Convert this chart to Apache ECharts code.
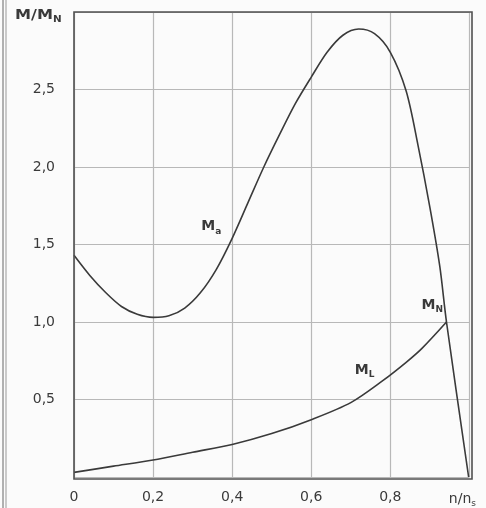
<!DOCTYPE html>
<html>
<head>
<meta charset="utf-8">
<script src="https://cdn.jsdelivr.net/npm/echarts@6/dist/echarts.min.js"></script>
<style>
  html, body { margin: 0; padding: 0; background: #fbfbfb; }
  #chart { width: 486px; height: 508px; }
</style>
</head>
<body>
<div id="chart"></div>
<script>
// speed ratio n/n_s and torque ratio M/M_N
const motorSpeed = [0, 0.04, 0.08, 0.12, 0.16, 0.2, 0.24, 0.28, 0.32, 0.36, 0.4, 0.44, 0.48, 0.52, 0.56, 0.6, 0.64, 0.68, 0.72, 0.76, 0.8, 0.84, 0.87, 0.9, 0.925, 0.942, 0.998];
const motorTorque = [1.43, 1.3, 1.19, 1.1, 1.05, 1.03, 1.04, 1.09, 1.19, 1.34, 1.54, 1.77, 2.0, 2.21, 2.41, 2.58, 2.74, 2.85, 2.89, 2.86, 2.74, 2.49, 2.14, 1.74, 1.36, 1.0, 0];
const loadSpeed = [0, 0.1, 0.2, 0.3, 0.4, 0.5, 0.6, 0.7, 0.78, 0.84, 0.88, 0.942];
const loadTorque = [0.03, 0.07, 0.11, 0.16, 0.21, 0.28, 0.37, 0.48, 0.62, 0.74, 0.83, 1.0];
const xTicks = ['0', '0,2', '0,4', '0,6', '0,8', '{t|n/n}{sub|s}{gap|}'];
const yTicks = ['', '0,5', '1,0', '1,5', '2,0', '2,5', ''];

const ink = '#3a3a3a';
const font = 'DejaVu Sans';
const sub = { fontSize: 9, fontFamily: font, color: ink, verticalAlign: 'bottom', padding: [9, 0, 0, 0] };

const chart = echarts.init(document.getElementById('chart'));
const zip = (xs, ys) => xs.map((x, i) => [x, ys[i]]);

const tag = (coord, text) => ({
  coord: coord,
  symbol: 'circle',
  symbolSize: 0,
  label: {
    show: true,
    formatter: text,
    color: ink,
    fontFamily: font,
    fontSize: 14,
    fontWeight: 'bold',
    rich: { sub: Object.assign({}, sub, { fontWeight: 'bold' }) },
  },
});

chart.setOption({
  animation: false,
  backgroundColor: '#fbfbfb',
  grid: { left: 74, right: 14, top: 12, bottom: 29 },
  xAxis: {
    type: 'value',
    min: 0,
    max: 1,
    interval: 0.2,
    axisLine: { show: false },
    axisTick: { show: false },
    splitLine: { show: true, lineStyle: { color: '#b8b8b8', width: 1.2 } },
    axisLabel: {
      margin: 13,
      color: ink,
      fontFamily: font,
      fontSize: 14,
      formatter: (v) => xTicks[Math.round(v / 0.2)],
      rich: {
        t: { fontSize: 14, fontFamily: font, color: ink },
        sub: sub,
        gap: { width: 14 },
      },
    },
  },
  yAxis: {
    type: 'value',
    min: 0,
    max: 3,
    interval: 0.5,
    axisLine: { show: false },
    axisTick: { show: false },
    splitLine: { show: true, lineStyle: { color: '#b8b8b8', width: 1.2 } },
    axisLabel: {
      margin: 19,
      color: ink,
      fontFamily: font,
      fontSize: 14,
      formatter: (v) => yTicks[Math.round(v / 0.5)],
    },
  },
  graphic: [
    // frame of the plot
    {
      type: 'rect',
      shape: { x: 74, y: 12, width: 398, height: 467 },
      style: { fill: 'none', stroke: '#505050', lineWidth: 1.6 },
      z: 10,
    },
    // page edge on the left
    { type: 'line', shape: { x1: 3, y1: 0, x2: 3, y2: 508 }, style: { stroke: '#666', lineWidth: 1 } },
    { type: 'line', shape: { x1: 6, y1: 0, x2: 6, y2: 508 }, style: { stroke: '#999', lineWidth: 1 } },
    {
      type: 'text',
      left: 15,
      top: 8,
      scaleX: 1.15,
      style: {
        text: 'M/M{sub|N}',
        fill: ink,
        font: 'bold 14px "DejaVu Sans"',
        rich: { sub: { fontSize: 9, fontWeight: 'bold', fill: ink, fontFamily: font, verticalAlign: 'bottom', padding: [9, 0, 0, 0] } },
      },
    },
  ],
  series: [
    {
      name: 'motor',
      type: 'line',
      data: zip(motorSpeed, motorTorque),
      smooth: 0.3,
      showSymbol: false,
      lineStyle: { color: ink, width: 1.6 },
      markPoint: {
        data: [
          tag([0.347, 1.615], 'M{sub|a}'),
          tag([0.906, 1.11], 'M{sub|N}'),
        ],
      },
    },
    {
      name: 'load',
      type: 'line',
      data: zip(loadSpeed, loadTorque),
      smooth: 0.3,
      showSymbol: false,
      lineStyle: { color: ink, width: 1.6 },
      markPoint: {
        data: [tag([0.735, 0.69], 'M{sub|L}')],
      },
    },
  ],
});
</script>
</body>
</html>
